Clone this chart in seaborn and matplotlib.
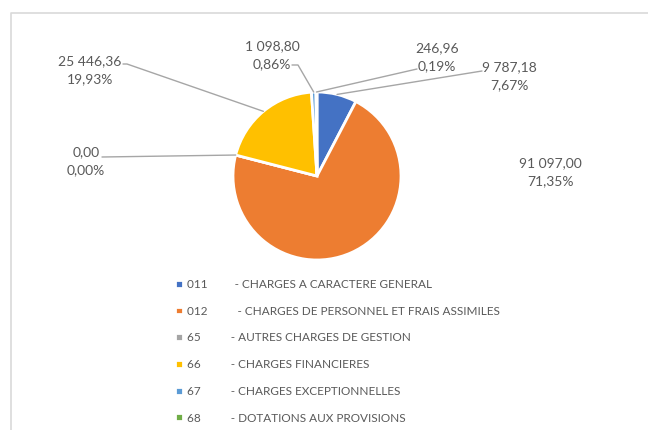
import matplotlib
matplotlib.use("Agg")
from matplotlib import pyplot as plt
import numpy as np
import seaborn as sns

codes = ["011", "012", "65", "66", "67", "68"]
descriptions = [
    "CHARGES A CARACTERE GENERAL",
    "CHARGES DE PERSONNEL ET FRAIS ASSIMILES",
    "AUTRES CHARGES DE GESTION",
    "CHARGES FINANCIERES",
    "CHARGES EXCEPTIONNELLES",
    "DOTATIONS AUX PROVISIONS",
]
values = [9787.18, 91097.00, 0.00, 25446.36, 1098.80, 246.96]
colors = ["#4472C4", "#ED7D31", "#A5A5A5", "#FFC000", "#5B9BD5", "#70AD47"]

# layout (pixel coords, origin top-left)
label_pos = [(509, 76), (550, 172), (86, 161), (90, 70), (272, 55), (437, 57)]
leader_start = [
    [(482, 71)],
    None,
    [(102, 157)],
    [(123, 64), (127, 64)],
    [(292, 65), (298, 65)],
    [(417, 69)],
]
W, H = 648, 430
center = (317, 176)
radius = 84
text_col = "#595959"
line_col = "#A6A6A6"
gaps = [9, 10, 10, 10, 10, 10]

sns.set_theme(style="white")
plt.rcParams["font.family"] = ["Lato", "DejaVu Sans"]
palette = sns.color_palette(colors)

fig = plt.figure(figsize=(W / 100, H / 100), dpi=100)
ax = fig.add_axes([0, 0, 1, 1])

wedges, _ = ax.pie(
    values,
    colors=palette,
    startangle=90,
    counterclock=False,
    center=(center[0], H - center[1]),
    radius=radius,
    frame=True,
    wedgeprops=dict(edgecolor="white", linewidth=2),
)
ax.set_xlim(0, W)
ax.set_ylim(0, H)
ax.set_aspect("equal")
ax.axis("off")

total = sum(values)


def fmt(v):
    return f"{v:,.2f}".replace(",", " ").replace(".", ",")


for i, w in enumerate(wedges):
    v = values[i]
    pct = f"{v / total * 100:.2f}".replace(".", ",") + "%"
    lx, ly = label_pos[i]
    ax.text(lx, H - ly, fmt(v) + "\n" + pct, ha="center", va="center",
            fontsize=10, color=text_col, linespacing=1.6)
    if leader_start[i] is not None:
        mid = np.deg2rad((w.theta1 + w.theta2) / 2)
        px = w.center[0] + w.r * np.cos(mid)
        py = w.center[1] + w.r * np.sin(mid)
        xs = [p[0] for p in leader_start[i]] + [px]
        ys = [H - p[1] for p in leader_start[i]] + [py]
        ax.plot(xs, ys, color=line_col, lw=1)

labels = [c + " " * g + "- " + d for c, g, d in zip(codes, gaps, descriptions)]
ax.legend(
    wedges, labels,
    loc="upper left", bbox_to_anchor=(175 / W, (H - 279) / H),
    frameon=False, fontsize=8.5, labelcolor=text_col,
    handlelength=0.65, handleheight=0.65, handletextpad=0.4,
    labelspacing=1.33, borderpad=0, borderaxespad=0,
)

# chart area border
ax.plot([10.5, 10.5, W], [0, H - 12.5, H - 12.5], color="#D9D9D9", lw=1.2)

fig.savefig("out.png", dpi=100)
